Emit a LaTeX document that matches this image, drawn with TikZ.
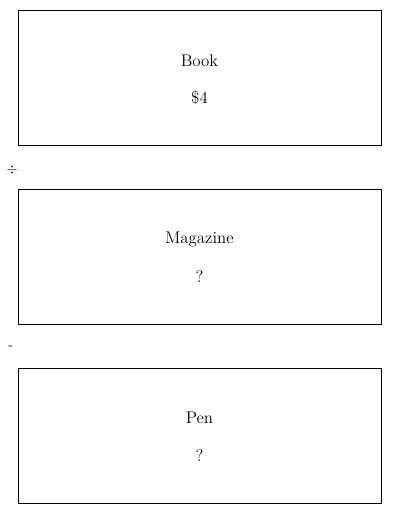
\documentclass[tikz,border=0pt]{standalone}
\usetikzlibrary{positioning}

\begin{document}
\begin{tikzpicture}[
    item/.style={draw, minimum width=9.075cm, minimum height=3.375cm},
    txt/.style={font=\large}]
  \useasboundingbox (0,0) rectangle (10,-12.85);
  \node[item] (book) at (4.9875,-1.9375) {};
  \node[item] (mag)  at (4.9875,-6.4125) {};
  \node[item] (pen)  at (4.9875,-10.8875) {};

  \node[txt] (bookname) at ([yshift=0.43cm]book.center) {Book};
  \node[txt] (bookcost) at ([yshift=-0.5cm]book.center) {\$4};
  \node[txt] (magname)  at ([yshift=0.43cm]mag.center) {Magazine};
  \node[txt] (magcost)  at ([yshift=-0.5cm]mag.center) {?};
  \node[txt] (penname)  at ([yshift=0.43cm]pen.center) {Pen};
  \node[txt] (pencost)  at ([yshift=-0.5cm]pen.center) {?};
  % operators between the boxes
  \node (div) at (0.3,-4.25) {$\div$};
  \node (sub) at (0.27,-8.7) {-};
\end{tikzpicture}
\end{document}
